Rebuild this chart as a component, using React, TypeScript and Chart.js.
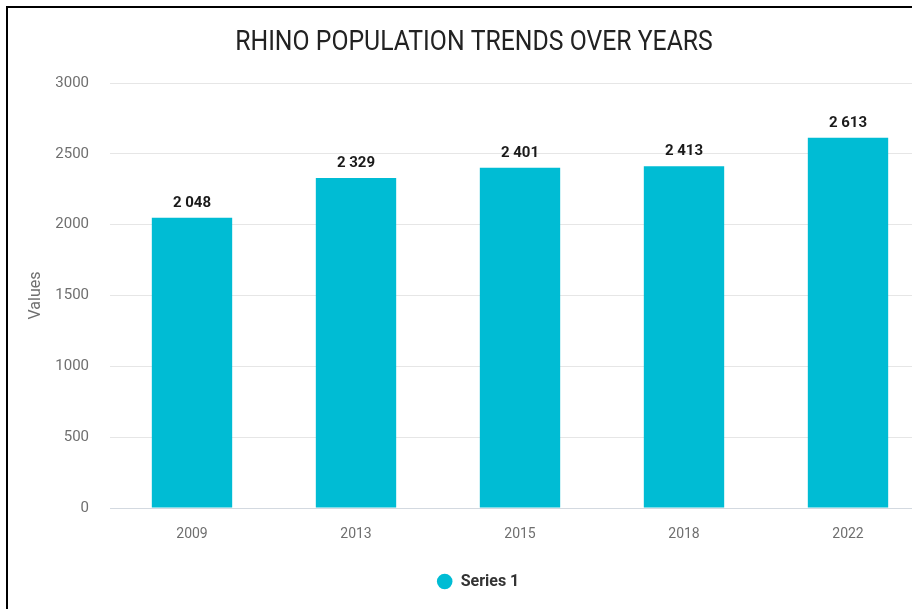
import React, { useEffect, useRef } from "react";
import { Chart, registerables } from "chart.js";

Chart.register(...registerables);

const titleText = "RHINO POPULATION TRENDS OVER YEARS";
const categories = ["2009", "2013", "2015", "2018", "2022"];
const seriesName = "Series 1";
const seriesValues = [2048, 2329, 2401, 2413, 2613];
const yTicks = [0, 500, 1000, 1500, 2000, 2500, 3000];
const yAxisTitle = "Values";

const FONT = "Roboto, 'Noto Sans', sans-serif";
const BAR_COLOR = "#00bcd4";

const fmt = (v: number) => String(v).replace(/\B(?=(\d{3})+(?!\d))/g, " ");

const valueLabels = {
  id: "valueLabels",
  afterDatasetsDraw(chart: any) {
    const ctx = chart.ctx;
    ctx.save();
    ctx.font = `bold 15px ${FONT}`;
    ctx.fillStyle = "#1a1a1a";
    ctx.textAlign = "center";
    ctx.textBaseline = "alphabetic";
    chart.data.datasets.forEach((ds: any, di: number) => {
      const meta = chart.getDatasetMeta(di);
      meta.data.forEach((el: any, i: number) => {
        ctx.fillText(fmt(ds.data[i]), el.x, el.y - 11);
      });
    });
    ctx.restore();
  },
};

// Condensed-looking title, drawn with a horizontal squeeze
const condensedTitle = {
  id: "condensedTitle",
  afterDraw(chart: any) {
    const ctx = chart.ctx;
    ctx.save();
    ctx.font = `normal 28px ${FONT}`;
    ctx.fillStyle = "#222";
    ctx.textAlign = "center";
    ctx.textBaseline = "middle";
    const squeeze = 0.885;
    ctx.translate(chart.width / 2, 34.5);
    ctx.scale(squeeze, 1);
    ctx.fillText(titleText, 0, 0);
    ctx.restore();
  },
};

export default function App() {
  const ref = useRef<HTMLCanvasElement | null>(null);
  useEffect(() => {
    if (!ref.current) return;
    const chart = new Chart(ref.current, {
      type: "bar",
      data: {
        labels: categories,
        datasets: [
          {
            label: seriesName,
            data: seriesValues,
            backgroundColor: BAR_COLOR,
            borderWidth: 0,
            categoryPercentage: 1,
            barPercentage: 0.49,
          },
        ],
      },
      options: {
        responsive: false,
        animation: false,
        layout: { padding: { left: 18, right: 10, top: 75, bottom: 9.5 } },
        plugins: {
          title: { display: false },
          legend: {
            display: true,
            position: "bottom",
            labels: {
              usePointStyle: true,
              pointStyle: "circle",
              boxHeight: 11,
              boxWidth: 16,
              padding: 10,
              color: "#333",
              font: { family: FONT, size: 16, weight: "bold" as any },
            },
          },
          tooltip: { enabled: false },
        },
        scales: {
          x: {
            grid: { display: false },
            border: { display: false },
            ticks: {
              color: "#6f6f6f",
              padding: 10,
              font: { family: FONT, size: 14 },
            },
            afterFit(scale: any) {
              scale.height = 55.5;
            },
          },
          y: {
            min: 0,
            max: 3000,
            afterBuildTicks(scale: any) {
              scale.ticks = yTicks.map((v) => ({ value: v }));
            },
            grid: {
              drawTicks: false,
              color: (c: any) => (c.tick && c.tick.value === 0 ? "#d3d9e0" : "#e6e6e6"),
              lineWidth: 1,
            },
            border: { display: false },
            ticks: {
              color: "#6f6f6f",
              padding: 21,
              font: { family: FONT, size: 15 },
              callback: (v: any) => String(v),
            },
            title: {
              display: true,
              text: yAxisTitle,
              color: "#6f6f6f",
              font: { family: FONT, size: 16 },
              padding: { top: 0, bottom: 0 },
            },
            afterFit(scale: any) {
              scale.width = 84;
            },
          },
        },
      },
      plugins: [valueLabels, condensedTitle],
    });
    return () => chart.destroy();
  }, []);

  return (
    <div style={{ position: "fixed", left: 0, top: 0, width: 912, height: 609, overflow: "hidden", background: "#fff" }}>
      <div
        style={{
          position: "absolute",
          left: 6,
          top: 6,
          width: 1000,
          height: 700,
          borderLeft: "2px solid #000",
          borderTop: "2px solid #000",
        }}
      />
      <canvas
        ref={ref}
        width={932}
        height={601}
        style={{ position: "absolute", left: 8, top: 8, width: 932, height: 601 }}
      />
    </div>
  );
}
